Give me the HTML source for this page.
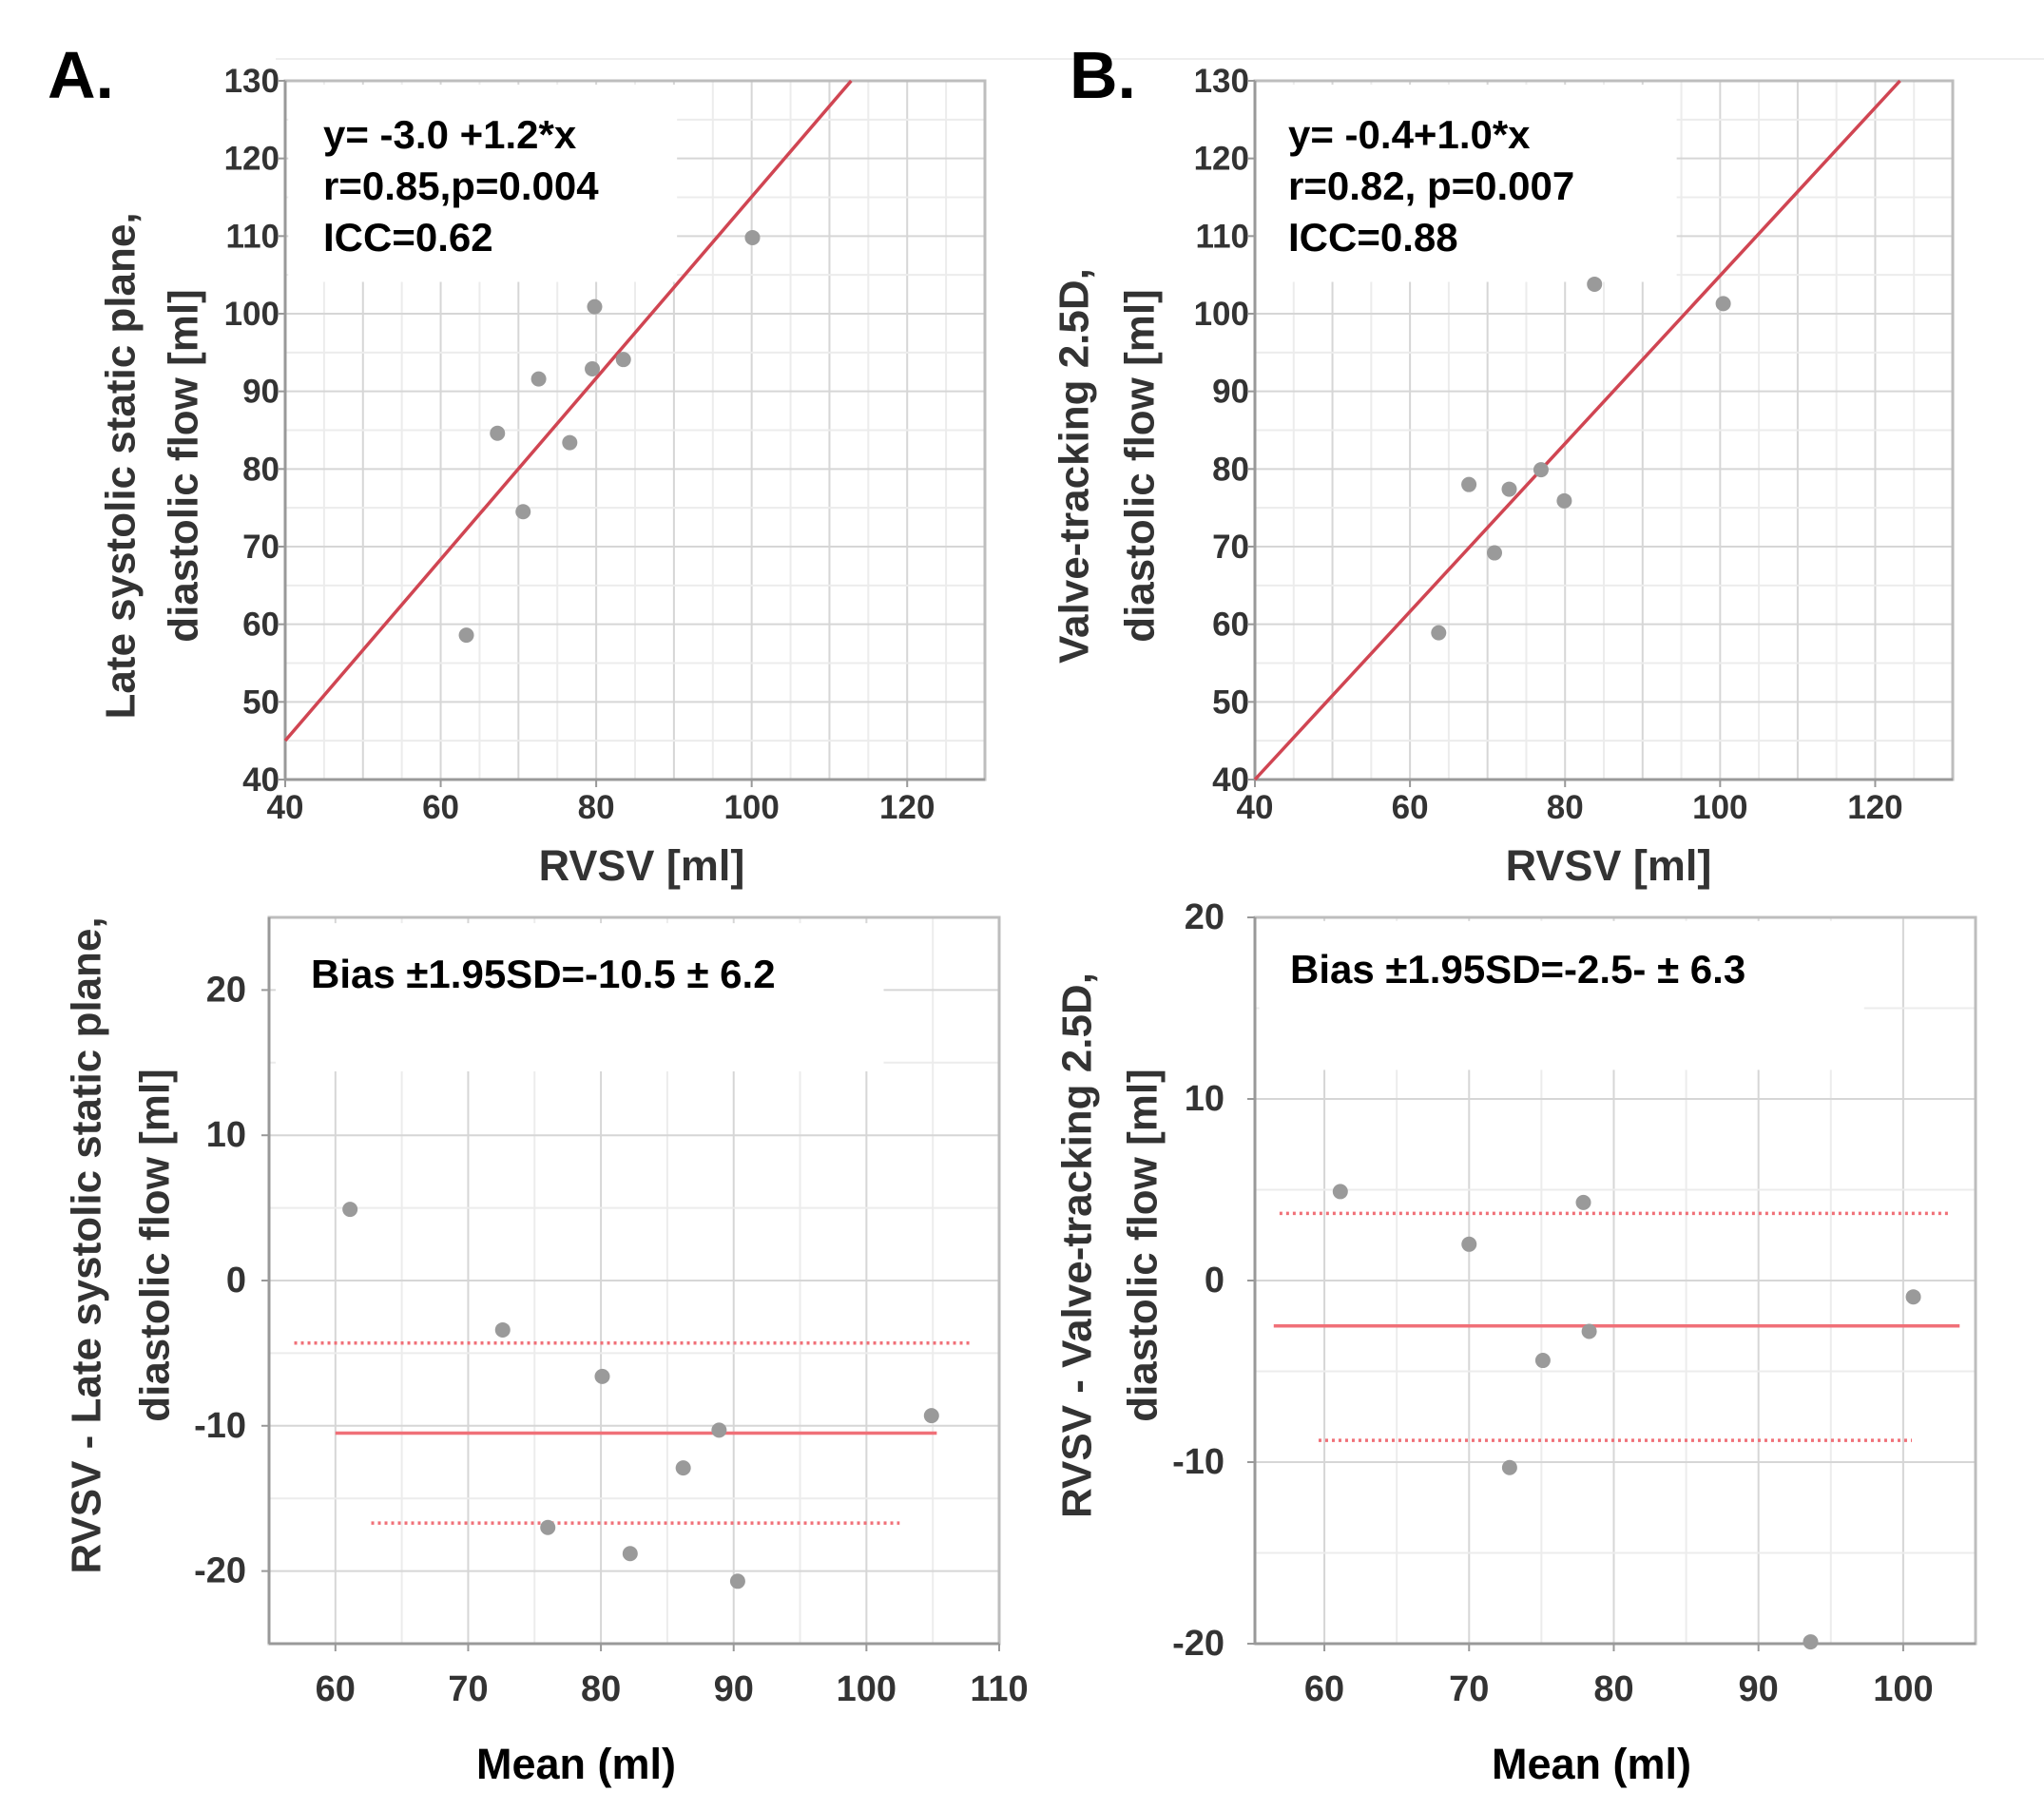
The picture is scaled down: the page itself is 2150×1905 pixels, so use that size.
<!DOCTYPE html>
<html><head><meta charset="utf-8"><style>
html,body{margin:0;padding:0;background:#fff;}
svg{display:block;font-family:"Liberation Sans",Arial,sans-serif;}
</style></head><body>
<svg id="fig" width="2150" height="1905" viewBox="0 0 2150 1905" xmlns="http://www.w3.org/2000/svg">
<line x1="290" y1="62" x2="2150" y2="62" stroke="#eee" stroke-width="2"/>
<text x="50" y="103" font-size="70" font-weight="bold">A.</text>
<text x="1125" y="103" font-size="70" font-weight="bold">B.</text>
<g id="layer"></g>
</svg>
<script>
// Panel A top: regression scatter
const aTopX = [63.3, 67.3, 70.6, 72.6, 76.6, 79.8, 79.5, 83.5, 100.1];
const aTopY = [58.6, 84.6, 74.5, 91.6, 83.4, 100.9, 92.9, 94.1, 109.8];
const aTopLineX = [40, 112.8];
const aTopLineY = [45, 130];
// Panel B top
const bTopX = [63.7, 67.6, 70.9, 72.8, 76.9, 79.9, 83.8, 100.4];
const bTopY = [58.9, 78.0, 69.2, 77.4, 79.9, 75.9, 103.8, 101.3];
const bTopLineX = [40, 123.2];
const bTopLineY = [40, 130];
// Panel A bottom: Bland-Altman
const aBotX = [61.1, 72.6, 80.1, 76.0, 82.2, 86.2, 88.9, 90.3, 104.9];
const aBotY = [4.9, -3.4, -6.6, -17.0, -18.8, -12.9, -10.3, -20.7, -9.3];
const aBias = [-10.5, 60, 105.3];
const aUpper = [-4.3, 56.9, 108];
const aLower = [-16.7, 62.7, 102.5];
// Panel B bottom
const bBotX = [61.1, 70.0, 77.9, 78.3, 75.1, 72.8, 93.6, 100.7];
const bBotY = [4.9, 2.0, 4.3, -2.8, -4.4, -10.3, -19.9, -0.9];
const bBias = [-2.5, 56.5, 103.9];
const bUpper = [3.7, 56.9, 103.2];
const bLower = [-8.8, 59.6, 100.6];
// ticks
const topXTicks = [40, 60, 80, 100, 120];
const topYTicks = [40, 50, 60, 70, 80, 90, 100, 110, 120, 130];
const aBotXTicks = [60, 70, 80, 90, 100, 110];
const aBotYTicks = [-20, -10, 0, 10, 20];
const bBotXTicks = [60, 70, 80, 90, 100];
const bBotYTicks = [-20, -10, 0, 10, 20];

const NS = "http://www.w3.org/2000/svg";
const layer = document.getElementById('layer');
function mk(tag, attrs, parent){
  const e = document.createElementNS(NS, tag);
  for (const k in attrs) e.setAttribute(k, attrs[k]);
  (parent||layer).appendChild(e);
  return e;
}
function panel(p){
  const g = mk('g', {});
  
  
  const sx = v => p.L + (v - p.x0) / (p.x1 - p.x0) * (p.R - p.L);
  const sy = v => p.B - (v - p.y0) / (p.y1 - p.y0) * (p.B - p.T);
  for (let v = Math.ceil(p.x0/5)*5; v <= p.x1; v += 5) {
    const l = mk('line', {x1:sx(v), x2:sx(v), y1:p.T, y2:p.B, stroke: v%10===0?'#d6d6d6':'#ececec', 'stroke-width':2}, g);
    
    
  }
  for (let v = Math.ceil(p.y0/5)*5; v <= p.y1; v += 5) {
    const l = mk('line', {x1:p.L, x2:p.R, y1:sy(v), y2:sy(v), stroke: v%10===0?'#d6d6d6':'#ececec', 'stroke-width':2}, g);
    
    
  }
  const bx = mk('rect', {x:sx(p.box[0]), y:sy(p.box[3]), width:sx(p.box[1])-sx(p.box[0]), height:sy(p.box[2])-sy(p.box[3]), fill:'#fff'}, g);
  
  
  const fr = mk('rect', {x:p.L, y:p.T, width:p.R-p.L, height:p.B-p.T, fill:'none', stroke:'#bdbdbd', 'stroke-width':3}, g);
  
  
  mk('line', {x1:p.L, x2:p.L, y1:p.T, y2:p.B, stroke:'#999', 'stroke-width':3}, g);
  mk('line', {x1:p.L, x2:p.R, y1:p.B, y2:p.B, stroke:'#999', 'stroke-width':3}, g);
  p.xt.forEach(v => {
    const t = mk('text', {x:sx(v), y:p.xlabY, 'font-size':p.tfs, 'font-weight':'bold', fill:'#333', 'text-anchor':'middle'}, g);
    t.textContent = v;
    
    
    mk('line', {x1:sx(v), x2:sx(v), y1:p.B, y2:p.B+8, stroke:'#999', 'stroke-width':2}, g);
  });
  p.yt.forEach(v => {
    const t = mk('text', {x:p.ylabX, y:sy(v)+12, 'font-size':p.tfs, 'font-weight':'bold', fill:'#333', 'text-anchor':'end'}, g);
    t.textContent = v;
    
    
    mk('line', {x1:p.L-8, x2:p.L, y1:sy(v), y2:sy(v), stroke:'#999', 'stroke-width':2}, g);
  });
  if (p.regX) {
    const l = mk('line', {x1:sx(p.regX[0]), y1:sy(p.regY[0]), x2:sx(p.regX[1]), y2:sy(p.regY[1]), stroke:'#d04552', 'stroke-width':3.5}, g);
    
    
  }
  if (p.bias) {
    const b = mk('line', {x1:sx(p.bias[1]), x2:sx(p.bias[2]), y1:sy(p.bias[0]), y2:sy(p.bias[0]), stroke:'#f07078', 'stroke-width':3.5}, g);
    
    
    [p.upper, p.lower].forEach((d, i) => {
      const l = mk('line', {x1:sx(d[1]), x2:sx(d[2]), y1:sy(d[0]), y2:sy(d[0]), stroke:'#f07078', 'stroke-width':3.5, 'stroke-dasharray':'3 4'}, g);
      
      
    });
  }
  p.px.forEach((x, i) => {
    const c = mk('circle', {cx:sx(x), cy:sy(p.py[i]), r:8, fill:'#9a9a9a'}, g);
    
    
  });
  p.ann.forEach((s, i) => {
    const t = mk('text', {x:p.annX, y:p.annY + i*54, 'font-size':42, 'font-weight':'bold', fill:'#000'}, g);
    t.textContent = s;
    
    
  });
  const xt = mk('text', {x:p.xtX, y:p.xtY, 'font-size':45, 'font-weight':'bold', fill: p.bias?'#000':'#333', 'text-anchor':'middle'}, g);
  xt.textContent = p.xTitle;
  
  
  p.yTitle.forEach((s, i) => {
    const cx = p.ytX[i], cy = p.ytY;
    const t = mk('text', {x:cx, y:cy, 'font-size':44, 'font-weight':'bold', fill:'#333', 'text-anchor':'middle', 'dominant-baseline':'central', transform:`rotate(-90 ${cx} ${cy})`}, g);
    t.textContent = s;
    
    
  });
}

panel({name:'panel-a-regression', L:300, R:1036, T:85, B:820, x0:40, x1:130, y0:40, y1:130, tfs:35,
  box:[40.4, 90.4, 104.1, 129.5], xt:topXTicks, yt:topYTicks, xlabY:861, ylabX:294,
  regX:aTopLineX, regY:aTopLineY, px:aTopX, py:aTopY,
  ann:['y= -3.0 +1.2*x','r=0.85,p=0.004','ICC=0.62'], annX:340, annY:156,
  xTitle:'RVSV [ml]', xtX:675, xtY:926,
  yTitle:['Late systolic static plane,','diastolic flow [ml]'], ytX:[127,193], ytY:490});
panel({name:'panel-b-regression', L:1320, R:2054, T:85, B:820, x0:40, x1:130, y0:40, y1:130, tfs:35,
  box:[40.2, 94.4, 104.1, 129.5], xt:topXTicks, yt:topYTicks, xlabY:861, ylabX:1314,
  regX:bTopLineX, regY:bTopLineY, px:bTopX, py:bTopY,
  ann:['y= -0.4+1.0*x','r=0.82, p=0.007','ICC=0.88'], annX:1355, annY:156,
  xTitle:'RVSV [ml]', xtX:1692, xtY:926,
  yTitle:['Valve-tracking 2.5D,','diastolic flow [ml]'], ytX:[1130,1199], ytY:490});
panel({name:'panel-a-bland-altman', L:283, R:1051, T:965, B:1729, x0:55, x1:110, y0:-25, y1:25, tfs:38,
  box:[55.5, 101.3, 14.4, 24.6], xt:aBotXTicks, yt:aBotYTicks, xlabY:1789, ylabX:259,
  bias:aBias, upper:aUpper, lower:aLower, px:aBotX, py:aBotY,
  ann:['Bias \u00b11.95SD=-10.5 \u00b1 6.2'], annX:327, annY:1039,
  xTitle:'Mean (ml)', xtX:606, xtY:1871,
  yTitle:['RVSV - Late systolic static plane,','diastolic flow [ml]'], ytX:[91,163], ytY:1310});
panel({name:'panel-b-bland-altman', L:1320, R:2078, T:965, B:1729, x0:55.2, x1:105, y0:-20, y1:20, tfs:38,
  box:[55.5, 97.3, 11.6, 19.8], xt:bBotXTicks, yt:bBotYTicks, xlabY:1789, ylabX:1288,
  bias:bBias, upper:bUpper, lower:bLower, px:bBotX, py:bBotY,
  ann:['Bias \u00b11.95SD=-2.5- \u00b1 6.3'], annX:1357, annY:1034,
  xTitle:'Mean (ml)', xtX:1674, xtY:1871,
  yTitle:['RVSV - Valve-tracking 2.5D,','diastolic flow [ml]'], ytX:[1133,1202], ytY:1310});
</script>
</body></html>
